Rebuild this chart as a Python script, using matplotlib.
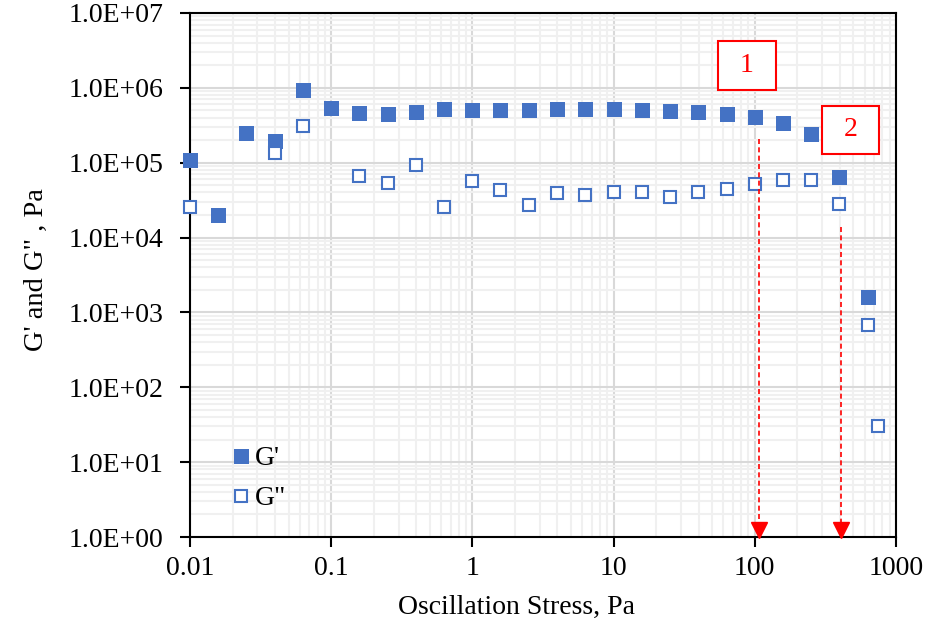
import numpy as np
import matplotlib
matplotlib.use("Agg")
import matplotlib.pyplot as plt
from matplotlib.ticker import LogLocator, FuncFormatter, NullFormatter
from matplotlib.patches import Rectangle

plt.rcParams['font.family'] = ['Liberation Serif', 'DejaVu Serif']

# G' (storage modulus)
stress_g1 = [0.01, 0.0158, 0.0251, 0.0398, 0.0631, 0.1, 0.158, 0.251, 0.398, 0.631,
             1, 1.58, 2.51, 3.98, 6.31, 10, 15.8, 25.1, 39.8, 63.1,
             100, 158, 251, 398, 631]
g1 = [1.09e5, 2.0e4, 2.5e5, 1.95e5, 9.4e5, 5.4e5, 4.6e5, 4.5e5, 4.7e5, 5.2e5,
      5.0e5, 5.0e5, 5.1e5, 5.2e5, 5.2e5, 5.2e5, 5.1e5, 4.9e5, 4.7e5, 4.5e5,
      4.1e5, 3.4e5, 2.4e5, 6.4e4, 1.6e3]

# G'' (loss modulus)
stress_g2 = [0.01, 0.0398, 0.0631, 0.158, 0.251, 0.398, 0.631, 1, 1.58, 2.51,
             3.98, 6.31, 10, 15.8, 25.1, 39.8, 63.1, 100, 158, 251,
             398, 631, 745]
g2 = [2.6e4, 1.35e5, 3.1e5, 6.7e4, 5.4e4, 9.4e4, 2.6e4, 5.7e4, 4.3e4, 2.7e4,
      3.9e4, 3.7e4, 4.1e4, 4.0e4, 3.5e4, 4.1e4, 4.4e4, 5.2e4, 5.9e4, 5.9e4,
      2.8e4, 6.8e2, 30]

# marked yield points (dashed arrows) and box labels
arrow_x = [107, 408]
arrow_top = [2.1e5, 1.4e4]
box_labels = ['1', '2']

blue = '#4472C4'

fig = plt.figure(figsize=(9.3, 6.27), dpi=100)
ax = fig.add_axes([0.2043, 0.1435, 0.7591, 0.8358])

ax.set_xscale('log')
ax.set_yscale('log')
ax.set_xlim(0.01, 1000)
ax.set_ylim(1, 1e7)

# grid: major darker, minor lighter
ax.xaxis.set_major_locator(LogLocator(base=10, numticks=20))
ax.xaxis.set_minor_locator(LogLocator(base=10, subs=np.arange(2, 10), numticks=20))
ax.yaxis.set_major_locator(LogLocator(base=10, numticks=20))
ax.yaxis.set_minor_locator(LogLocator(base=10, subs=np.arange(2, 10), numticks=20))
ax.grid(which='major', color='#d9d9d9', linewidth=1.5, zorder=0)
ax.grid(which='minor', color='#f0f0f0', linewidth=1.5, zorder=0)
ax.set_axisbelow(True)

ax.xaxis.set_major_formatter(FuncFormatter(lambda v, p: '%g' % v))
ax.xaxis.set_minor_formatter(NullFormatter())
ax.yaxis.set_major_formatter(FuncFormatter(lambda v, p: '%.1E' % v))
ax.yaxis.set_minor_formatter(NullFormatter())

ax.tick_params(which='major', direction='out', length=7, width=1.5, labelsize=20, color='black')
ax.tick_params(axis='y', which='major', pad=12)
ax.tick_params(axis='x', which='major', pad=7)
ax.tick_params(which='minor', length=0)
for s in ax.spines.values():
    s.set_linewidth(1.5)
    s.set_color('black')

ax.plot(stress_g1, g1, linestyle='none', marker='s', markersize=10.8,
        markerfacecolor=blue, markeredgewidth=0, color=blue,
        label="G'", clip_on=False, zorder=3)
ax.plot(stress_g2, g2, linestyle='none', marker='s', markersize=9.3,
        markerfacecolor='white', markeredgecolor=blue, markeredgewidth=1.5,
        label='G"', clip_on=False, zorder=3)

# dashed red arrows down to the x axis
for xa, yt in zip(arrow_x, arrow_top):
    ax.plot([xa, xa], [yt, 1.25], color='red', linestyle='--', linewidth=1.2,
            dashes=(3, 2), zorder=4)
    ax.plot([xa], [1.25], marker='v', markersize=11, color='red',
            clip_on=False, zorder=5)

# boxed labels (axes fraction)
boxes = [(0.748, 0.853, 0.082, 0.094), (0.895, 0.731, 0.081, 0.092)]
for (bx, by, bw, bh), lab in zip(boxes, box_labels):
    ax.add_patch(Rectangle((bx, by), bw, bh, transform=ax.transAxes,
                           fill=True, facecolor='white', edgecolor='red',
                           linewidth=1.5, zorder=6))
    ax.text(bx + bw / 2, by + bh / 2, lab, transform=ax.transAxes,
            ha='center', va='center', fontsize=20, color='red', zorder=7)

ax.set_xlabel('Oscillation Stress, Pa', fontsize=20)
ax.set_ylabel('G\' and G" , Pa', fontsize=20.5)
ax.xaxis.set_label_coords(0.462, -0.111)
ax.yaxis.set_label_coords(-0.2, 0.51)

ax.legend(loc='upper left', bbox_to_anchor=(0.045, 0.195), frameon=False,
          fontsize=20, handlelength=0.6, handletextpad=0.2,
          labelspacing=0.52, borderaxespad=0, markerscale=1.0)

plt.savefig('out.png', dpi=100)
